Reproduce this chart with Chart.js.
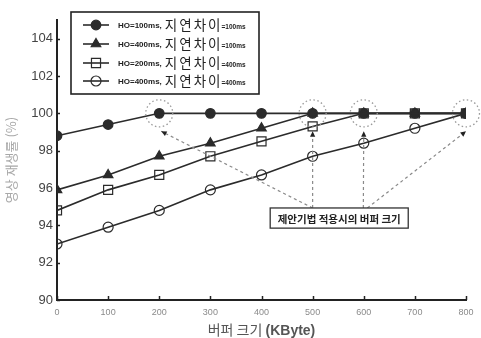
<!DOCTYPE html>
<html>
<head>
<meta charset="utf-8">
<script src="https://cdn.jsdelivr.net/npm/chart.js@4/dist/chart.umd.min.js"></script>
<style>
  html, body { margin: 0; padding: 0; background: #fff; }
  #wrap { width: 481px; height: 338px; }
</style>
</head>
<body>
<div id="wrap"><canvas id="c" width="481" height="338"></canvas></div>
<script>
// buffer size (KByte)
var bufferSizes = [0, 100, 200, 300, 400, 500, 600, 700, 800];
// playback rate (%) per setting
var rateHo100Delay100 = [98.8, 99.4, 100, 100, 100, 100, 100, 100, 100];
var rateHo400Delay100 = [95.9, 96.7, 97.7, 98.4, 99.2, 100, 100, 100, 100];
var rateHo200Delay400 = [94.8, 95.9, 96.7, 97.7, 98.5, 99.3, 100, 100, 100];
var rateHo400Delay400 = [93.0, 93.9, 94.8, 95.9, 96.7, 97.7, 98.4, 99.2, 100];
var legendHo = ['HO=100ms,', 'HO=400ms,', 'HO=200ms,', 'HO=400ms,'];
var legendDelay = ['=100ms', '=100ms', '=400ms', '=400ms'];
var yTicks = [90, 92, 94, 96, 98, 100, 102, 104];
var xTicks = [0, 100, 200, 300, 400, 500, 600, 700, 800];
// buffer sizes where the proposed scheme reaches 100%
var proposedPoints = [200, 500, 600, 800];

var lineColor = '#2b2b2b';
var kr = '"Noto Sans CJK KR", sans-serif';

function toXY(vals) {
    return vals.map(function (v, i) { return { x: bufferSizes[i], y: v }; });
}

function series(label, vals, style, filled, r) {
    return {
        label: label,
        data: toXY(vals),
        borderColor: lineColor,
        borderWidth: 1.6,
        pointStyle: style,
        pointRadius: r,
        pointBorderWidth: 1.2,
        pointBorderColor: lineColor,
        pointBackgroundColor: filled ? lineColor : 'rgba(0,0,0,0)',
        tension: 0
    };
}

var datasets = [
    series('HO=400ms, 지연차이=400ms', rateHo400Delay400, 'circle', false, 5),
    series('HO=200ms, 지연차이=400ms', rateHo200Delay400, 'rect', false, 6.4),
    series('HO=400ms, 지연차이=100ms', rateHo400Delay100, 'triangle', true, 5.5),
    series('HO=100ms, 지연차이=100ms', rateHo100Delay100, 'circle', true, 4.8)
];
// legend order top -> bottom
var legendOrder = [3, 2, 1, 0];

function drawMarker(ctx, ds, x, y) {
    Chart.helpers.drawPoint(ctx, {
        pointStyle: ds.pointStyle,
        radius: ds.pointRadius,
        borderWidth: ds.pointBorderWidth,
        rotation: 0
    }, x, y);
}

var extras = {
    id: 'extras',
    afterDraw: function (chart) {
        var ctx = chart.ctx;
        var xs = chart.scales.x, ys = chart.scales.y;
        var area = chart.chartArea;
        ctx.save();

        // inward tick marks
        ctx.strokeStyle = '#222';
        ctx.lineWidth = 1.5;
        yTicks.forEach(function (v) {
            var py = Math.round(ys.getPixelForValue(v)) + 0.5;
            ctx.beginPath();
            ctx.moveTo(area.left, py);
            ctx.lineTo(area.left + 3, py);
            ctx.stroke();
        });
        xTicks.forEach(function (v) {
            var px = Math.round(xs.getPixelForValue(v)) + 0.5;
            ctx.beginPath();
            ctx.moveTo(px, area.bottom);
            ctx.lineTo(px, area.bottom - 4);
            ctx.stroke();
        });

        // dotted circles around proposed points
        ctx.strokeStyle = '#9a9a9a';
        ctx.lineWidth = 1.3;
        ctx.setLineDash([1.5, 2.5]);
        proposedPoints.forEach(function (v) {
            ctx.beginPath();
            ctx.arc(xs.getPixelForValue(v), ys.getPixelForValue(100), 13.5, 0, Math.PI * 2);
            ctx.stroke();
        });

        // callout box
        var bx1 = xs.getPixelForValue(417), bx2 = xs.getPixelForValue(687);
        var by1 = ys.getPixelForValue(94.93), by2 = ys.getPixelForValue(93.85);
        var leftFoot = xs.getPixelForValue(500), rightFoot = xs.getPixelForValue(607);

        // dashed leader lines with arrowheads
        ctx.strokeStyle = '#8a8a8a';
        ctx.lineWidth = 1.2;
        var leaders = [
            [leftFoot, proposedPoints[0]],
            [leftFoot, proposedPoints[1]],
            [rightFoot - 4, proposedPoints[2]],
            [rightFoot, proposedPoints[3]]
        ];
        leaders.forEach(function (l) {
            var sx = l[0], sy = by1;
            var tx = xs.getPixelForValue(l[1]) + (l[1] === 200 ? 2 : 0);
            var ty = ys.getPixelForValue(100) + 18;
            ctx.setLineDash([3, 3]);
            ctx.beginPath();
            ctx.moveTo(sx, sy);
            ctx.lineTo(tx, ty);
            ctx.stroke();
            // arrowhead
            var ang = Math.atan2(ty - sy, tx - sx);
            ctx.setLineDash([]);
            ctx.fillStyle = '#222';
            ctx.beginPath();
            ctx.moveTo(tx, ty);
            ctx.lineTo(tx - 6 * Math.cos(ang - 0.45), ty - 6 * Math.sin(ang - 0.45));
            ctx.lineTo(tx - 6 * Math.cos(ang + 0.45), ty - 6 * Math.sin(ang + 0.45));
            ctx.closePath();
            ctx.fill();
        });
        ctx.setLineDash([]);

        ctx.fillStyle = '#fff';
        ctx.fillRect(bx1, by1, bx2 - bx1, by2 - by1);
        ctx.strokeStyle = '#333';
        ctx.lineWidth = 1.3;
        ctx.strokeRect(bx1, by1, bx2 - bx1, by2 - by1);
        ctx.fillStyle = '#222';
        ctx.font = 'bold 10.5px ' + kr;
        ctx.textAlign = 'center';
        ctx.textBaseline = 'middle';
        ctx.fillText('제안기법 적용시의 버퍼 크기', (bx1 + bx2) / 2, (by1 + by2) / 2 + 1);

        // legend box
        var lx = 71, ly = 12, lw = 188, lh = 82;
        ctx.fillStyle = '#fff';
        ctx.fillRect(lx, ly, lw, lh);
        ctx.strokeStyle = '#222';
        ctx.lineWidth = 1.6;
        ctx.strokeRect(lx, ly, lw, lh);
        var rows = [25, 44, 63, 81];
        legendOrder.forEach(function (di, k) {
            var ds = chart.data.datasets[di];
            var ry = rows[k];
            ctx.strokeStyle = lineColor;
            ctx.lineWidth = 1.6;
            ctx.beginPath();
            ctx.moveTo(83, ry);
            ctx.lineTo(109, ry);
            ctx.stroke();
            ctx.fillStyle = ds.pointBackgroundColor;
            ctx.strokeStyle = lineColor;
            ctx.lineWidth = ds.pointBorderWidth;
            drawMarker(ctx, ds, 96, ry);

            ctx.fillStyle = '#222';
            ctx.textAlign = 'left';
            ctx.textBaseline = 'middle';
            ctx.font = 'bold 8px Arial';
            ctx.fillText(legendHo[k], 118, ry + 1);
            var px = 118 + ctx.measureText(legendHo[k]).width + 3;
            ctx.font = '13.5px ' + kr;
            '지연차이'.split('').forEach(function (ch) {
                ctx.fillText(ch, px, ry);
                px += ctx.measureText(ch).width + 2;
            });
            ctx.font = 'bold 6.5px Arial';
            ctx.fillText(legendDelay[k], px - 1, ry + 2);
        });

        // x axis title
        var t1 = '버퍼 크기 ', t2 = '(KByte)';
        ctx.font = '14px ' + kr;
        var a = ctx.measureText(t1).width;
        ctx.font = 'bold 14px Arial';
        var b = ctx.measureText(t2).width;
        var cx = (area.left + area.right) / 2 - (a + b) / 2;
        ctx.fillStyle = '#555';
        ctx.textAlign = 'left';
        ctx.textBaseline = 'middle';
        ctx.font = '14px ' + kr;
        ctx.fillText(t1, cx, 330);
        ctx.font = 'bold 14px Arial';
        ctx.fillText(t2, cx + a, 331);

        ctx.restore();
    }
};

new Chart(document.getElementById('c').getContext('2d'), {
    type: 'line',
    data: { datasets: datasets },
    plugins: [extras],
    options: {
        responsive: false,
        animation: false,
        layout: { padding: { top: 20, right: 15, left: 0, bottom: 0 } },
        plugins: { legend: { display: false }, tooltip: { enabled: false } },
        scales: {
            x: {
                type: 'linear',
                min: 0,
                max: 800,
                afterBuildTicks: function (s) { s.ticks = xTicks.map(function (v) { return { value: v }; }); },
                afterFit: function (s) { s.height = 38; },
                grid: { display: true, drawOnChartArea: false, drawTicks: false },
                border: { display: true, color: '#222', width: 2 },
                ticks: { color: '#8a8a8a', font: { size: 9, family: 'Arial' }, padding: 7, maxRotation: 0 }
            },
            y: {
                min: 90,
                max: 105,
                afterBuildTicks: function (s) { s.ticks = yTicks.map(function (v) { return { value: v }; }); },
                afterFit: function (s) { s.width = 57; },
                grid: { display: true, drawOnChartArea: false, drawTicks: false },
                border: { display: true, color: '#222', width: 2 },
                ticks: { color: '#444', font: { size: 13, family: 'Arial' }, padding: 4 },
                title: {
                    display: true,
                    text: '영상 재생률 (%)',
                    color: '#a8a8a8',
                    font: { size: 13, family: '"Noto Sans CJK KR", sans-serif' },
                    padding: { top: 3, bottom: 0 }
                }
            }
        }
    }
});
</script>
</body>
</html>
